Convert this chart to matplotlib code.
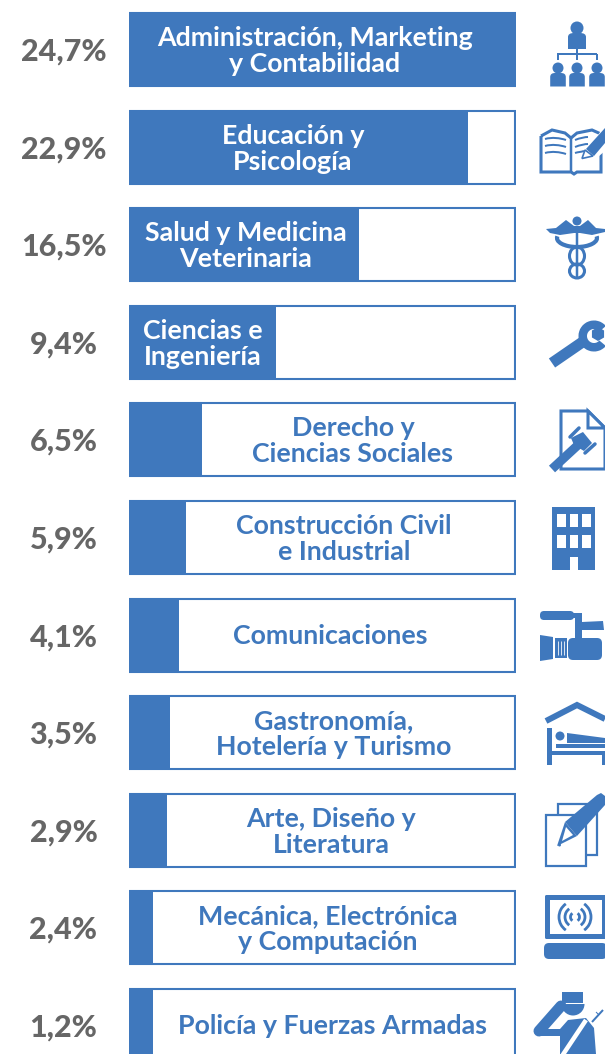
import numpy as np
import matplotlib
matplotlib.use('Agg')
import matplotlib.pyplot as plt
from matplotlib.patches import Circle, Rectangle, Polygon, FancyBboxPatch, Wedge, Arc, RegularPolygon, Ellipse
from matplotlib.path import Path
from matplotlib.patches import PathPatch

plt.rcParams['font.family'] = ['Lato', 'DejaVu Sans']

# data
categories = ['Administración, Marketing\ny Contabilidad', 'Educación y\nPsicología',
              'Salud y Medicina\nVeterinaria', 'Ciencias e\nIngeniería',
              'Derecho y\nCiencias Sociales', 'Construcción Civil\ne Industrial',
              'Comunicaciones', 'Gastronomía,\nHotelería y Turismo',
              'Arte, Diseño y\nLiteratura', 'Mecánica, Electrónica\ny Computación',
              'Policía y Fuerzas Armadas']
percent_labels = ['24,7%', '22,9%', '16,5%', '9,4%', '6,5%', '5,9%', '4,1%', '3,5%', '2,9%', '2,4%', '1,2%']
# the drawn bars are not quite proportional to the printed numbers, so read them off the picture
bar_lengths = [24.7, 21.66, 14.66, 9.36, 4.66, 3.66, 3.2, 2.62, 2.4, 1.5, 1.5]
bar_max = 24.7

# layout
W, H = 605, 1054
BLUE = '#3f78bd'
GREY = '#666666'
row0, step, box_h = 49.5, 97.6, 75
label_cx = [315, 293, 246, 203, 353, 344, 330.5, 334, 331, 328, 332]
label_white = [True, True, True, True, False, False, False, False, False, False, False]

fig = plt.figure(figsize=(W / 100, H / 100), dpi=100, facecolor='white')

# bars
ax = fig.add_axes([129 / W, 0, 387 / W, 1])
ax.set_xlim(0, bar_max)
ax.set_ylim((H - row0) / step, -row0 / step)
ax.axis('off')
rows = np.arange(len(categories))
ax.barh(rows, [bar_max - 0.07] * len(rows), height=(box_h - 2) / step, color='white', edgecolor=BLUE, linewidth=1.5)
ax.barh(rows, bar_lengths, height=box_h / step, color=BLUE, linewidth=0)

# pixel overlay for text and icons
ov = fig.add_axes([0, 0, 1, 1])
ov.set_xlim(0, W)
ov.set_ylim(H, 0)
ov.axis('off')
ov.patch.set_alpha(0)

for i, (c, p) in enumerate(zip(categories, percent_labels)):
    y = row0 + step * i
    dy = 1.5 if '\n' in c else 1
    ov.text(label_cx[i], y + dy, c, ha='center', va='center', fontsize=19.3, fontweight='bold',
            color='white' if label_white[i] else BLUE, linespacing=1.1)
    ov.text(63.5, y + 2, p, ha='center', va='center', fontsize=22, fontweight='black', color=GREY)


def poly(pts, fc=BLUE, ec='none', lw=0):
    ov.add_patch(Polygon(pts, closed=True, fc=fc, ec=ec, lw=lw))


def rect(x0, y0, x1, y1, fc=BLUE, ec='none', lw=0):
    ov.add_patch(Rectangle((x0, y0), x1 - x0, y1 - y0, fc=fc, ec=ec, lw=lw))


def circ(x, y, r, fc=BLUE):
    ov.add_patch(Circle((x, y), r, fc=fc, ec='none'))


def line(xs, ys, lw=2, color=BLUE, cap='butt'):
    ov.plot(xs, ys, color=color, lw=lw * 0.72, solid_capstyle=cap, solid_joinstyle='miter')


def rrect(x0, y0, x1, y1, r, fc=BLUE):
    ov.add_patch(FancyBboxPatch((x0 + r, y0 + r), x1 - x0 - 2 * r, y1 - y0 - 2 * r,
                                boxstyle='round,pad=%f,rounding_size=%f' % (r, r), fc=fc, ec='none'))


def person(cx, hy, hr, top, bot, hw):
    circ(cx, hy, hr)
    ov.add_patch(PathPatch(Path([(cx - hw, bot), (cx - hw, top + 4), (cx - hw, top), (cx - 3, top),
                                 (cx + 3, top), (cx + hw, top), (cx + hw, top + 4), (cx + hw, bot), (cx - hw, bot)],
                                [1, 2, 3, 3, 2, 3, 3, 2, 79]), fc=BLUE, ec='none'))


def curve(pts, lw):
    ov.add_patch(PathPatch(Path(pts, [1] + [4] * (len(pts) - 1)), fc='none', ec=BLUE, lw=lw * 0.72))


# people / org chart
person(577, 28, 6.5, 33, 49, 9)
line([557.5, 557.5], [60, 54]); line([596.5, 596.5], [60, 54]); line([577, 577], [49, 60])
line([557, 597], [54, 54])
for cx in (558, 577, 597):
    person(cx, 68, 5.5, 73, 86.5, 7.8)

# book and pen
ov.add_patch(PathPatch(Path([(541, 136), (552, 130), (565, 133), (571, 138), (577, 133), (592, 130), (601, 134),
                             (601, 172), (577, 172), (574, 174), (571, 172), (541, 172), (541, 136)]),
                       fc='white', ec=BLUE, lw=2.2))
line([571, 571], [138, 172], lw=2.5)
for k, yy in enumerate((139, 146, 153)):
    curve([(545, yy), (552, yy - 2), (560, yy - 1), (566, yy + 1)], 2)
    if k < 2:
        curve([(575, yy + 1), (580, yy - 1), (585, yy - 2), (588, yy - 2)], 2)
curve([(575, 153), (578, 152), (581, 152), (584, 151)], 2)
poly([(580, 161), (605, 125), (606, 150), (590, 164)], fc='white')
poly([(586, 149), (605, 128), (605, 143), (594, 156)])
poly([(582, 158.5), (585, 150), (593, 156)], fc='white', ec=BLUE, lw=1.2)

# caduceus
poly([(546, 229), (556, 228), (566, 220), (574, 226), (580, 226), (588, 220), (596, 228), (605, 229),
      (605, 232), (592, 235), (580, 233), (574, 233), (560, 235), (550, 233)])
circ(577, 221, 4.5)
line([577, 577], [226, 278], lw=2.5)
ov.add_patch(Arc((577, 238), 40, 18, theta1=-5, theta2=185, ec=BLUE, lw=3))
ov.add_patch(Ellipse((577, 256), 15, 18, fc='none', ec=BLUE, lw=2.2))
ov.add_patch(Ellipse((577, 271), 15, 14, fc='none', ec=BLUE, lw=2.2))

# wrench
line([552, 584], [363, 341], lw=11)
ov.add_patch(Wedge((594, 336), 15.5, 40, 320, width=8.5, fc=BLUE, ec='none'))
ov.add_patch(RegularPolygon((598, 334), 6, radius=7, orientation=0.0, fc=BLUE, ec='none'))

# document with gavel
poly([(561, 411), (588, 411), (605, 428), (605, 469), (561, 469)], fc='white', ec=BLUE, lw=2.2)
poly([(588, 411), (605, 428), (588, 428)], fc='white', ec=BLUE, lw=2.2)
line([552, 578], [469, 445], lw=9)
poly([(571, 438), (583, 432), (592, 443), (584, 451), (574, 445)])
line([570, 579], [437, 428], lw=3.5, cap='round')
line([585, 595], [453, 444], lw=3.5, cap='round')

# building
rect(552, 507, 595, 570)
for wx in (557, 569.5, 582):
    for wy in (514, 535):
        rect(wx, wy, wx + 8.5, wy + 13, fc='white')
rect(569.5, 557, 578, 571, fc='white')

# video camera
rrect(540, 611, 574, 620, 4)
poly([(573, 613), (582, 613), (582, 640), (575, 640), (575, 618), (573, 618)])
poly([(582, 622), (603, 621), (604, 630), (582, 630)])
rrect(568, 638, 602, 660, 5)
poly([(540, 635), (553, 637), (553, 659), (540, 661)])
rect(555, 638, 567, 658)
for lx in (557.5, 560.5, 563.5):
    line([lx, lx], [641, 655], lw=0.8, color='white')

# bed under a roof
line([546, 577, 605], [721, 705, 719], lw=6)
rect(547, 728, 552, 765)
circ(560, 736, 4.5)
poly([(567, 733), (605, 738), (605, 743), (567, 743)])
rect(556, 744, 605, 747.5)
rect(547, 751, 605, 755)
rect(602, 751, 605, 765)

# papers and pencil
rect(558, 804, 597, 855, fc='white', ec=BLUE, lw=1.6)
rect(546, 815, 585.5, 866, fc='white', ec=BLUE, lw=1.6)
poly([(565, 822), (597, 795), (601, 793), (605, 796), (605, 805), (577, 836)])
poly([(557, 846), (565, 822), (577, 836)], fc=BLUE)
poly([(562, 841), (566, 827), (573, 835)], fc='white')
circ(559.5, 845, 1.5)

# screen with signal
rrect(545, 895, 606, 939, 1.5)
rect(550, 900, 602, 934, fc='white')
for r in (4.5, 10, 16):
    for a0, a1 in ((125, 235), (-55, 55)):
        ov.add_patch(Arc((575, 917), 2 * r, 2 * r, theta1=a0, theta2=a1, ec=BLUE, lw=2))
rrect(544, 943, 607, 959, 5)

# saluting officer
rect(562, 992, 583, 1003)
ov.add_patch(Wedge((573, 1004), 11.5, 0, 180, fc=BLUE, ec='none'))
line([539, 561], [1031, 1006], lw=11, cap='round')
line([539, 563], [1032, 1032], lw=7, cap='round')
poly([(560, 1029), (568, 1020), (586, 1018), (594, 1028), (596, 1054), (560, 1054)])
line([586, 562], [1020, 1056], lw=4.5, color='white')
line([592, 603], [1022, 1010], lw=2)
line([596, 599], [1012, 1015], lw=1)

fig.savefig('out.png', dpi=100, facecolor='white')
